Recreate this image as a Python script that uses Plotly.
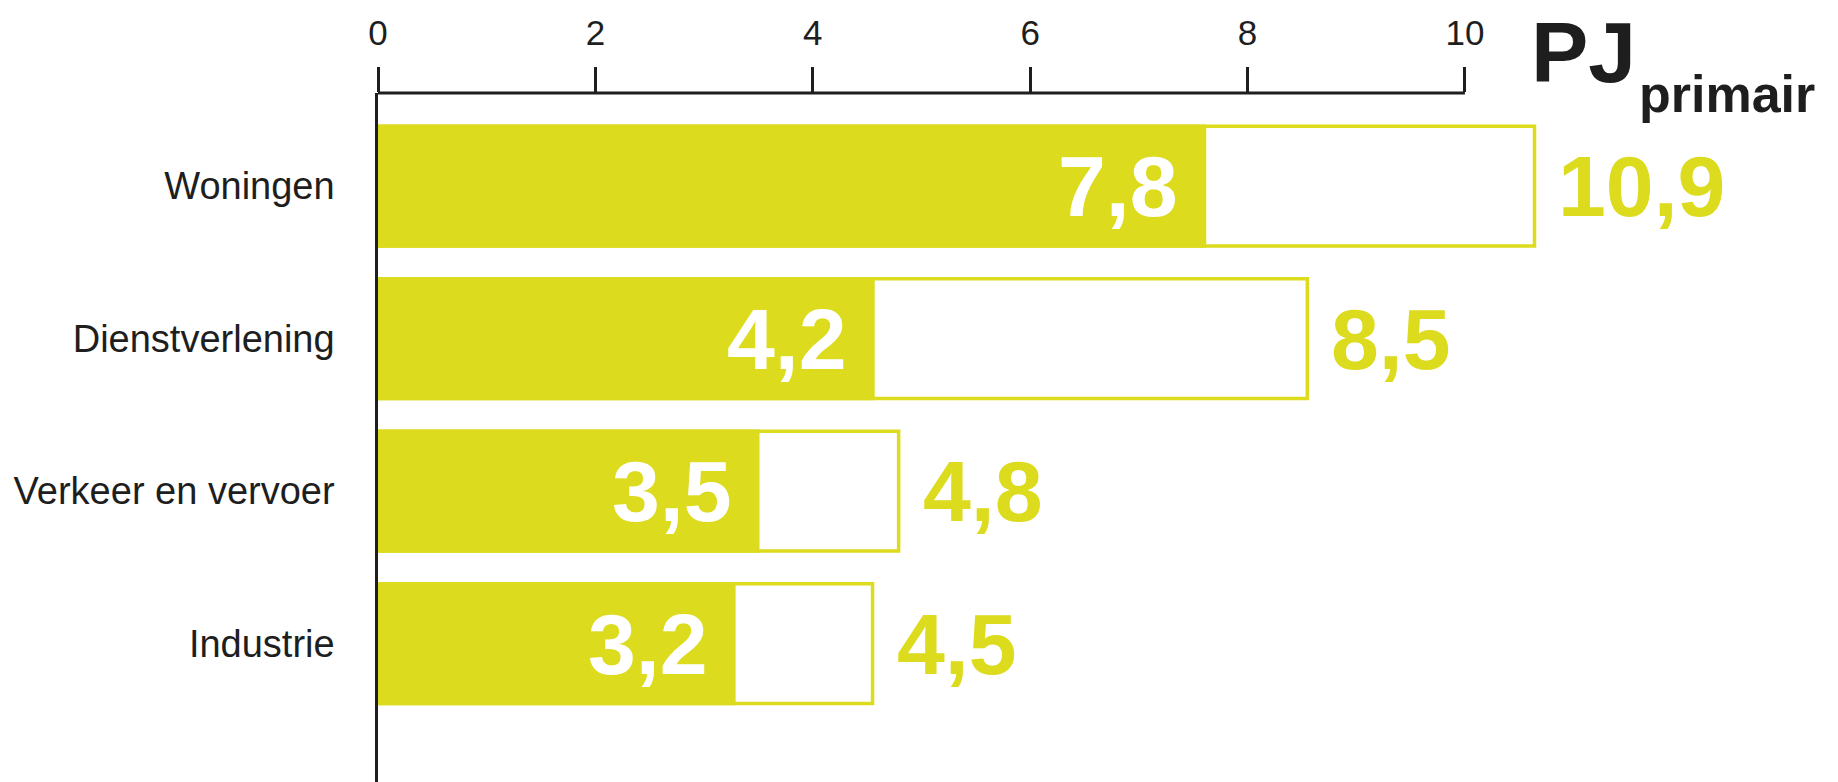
import plotly.graph_objects as go

# ---- data ----
categories = ["Woningen", "Dienstverlening", "Verkeer en vervoer", "Industrie"]
filled_values = [7.62, 4.57, 3.51, 3.29]
total_values = [10.64, 8.55, 4.79, 4.55]
filled_labels = ["7,8", "4,2", "3,5", "3,2"]
total_labels = ["10,9", "8,5", "4,8", "4,5"]
tick_values = [0, 2, 4, 6, 8, 10]
tick_labels = ["0", "2", "4", "6", "8", "10"]
unit_main = "PJ"
unit_sub = "primair"

YELLOW = "#DCDB1E"
INK = "#1e1e1e"
FONT = "Liberation Sans, Arial, Helvetica, sans-serif"

W, H = 1838, 782
L, T = 378, 93
X_MAX = 13.0
PX_PER_UNIT = 108.7
R = W - L - X_MAX * PX_PER_UNIT

fig = go.Figure()
fig.add_trace(go.Bar(
    y=categories, x=total_values, orientation="h", width=0.785,
    marker=dict(color="white", line=dict(color=YELLOW, width=3.5)),
    hoverinfo="skip",
))
fig.add_trace(go.Bar(
    y=categories, x=filled_values, orientation="h", width=0.808,
    marker=dict(color=YELLOW, line=dict(width=0)),
    hoverinfo="skip",
))

annotations = []
for cat, fv, fl, tv, tl in zip(categories, filled_values, filled_labels, total_values, total_labels):
    annotations.append(dict(
        x=fv, y=cat, xref="x", yref="y", text=fl, showarrow=False,
        xanchor="right", yanchor="middle", xshift=-26,
        font=dict(family=FONT, size=86, color="white", weight="bold"),
    ))
    annotations.append(dict(
        x=tv, y=cat, xref="x", yref="y", text=tl, showarrow=False,
        xanchor="left", yanchor="middle", xshift=22,
        font=dict(family=FONT, size=86, color=YELLOW, weight="bold"),
    ))

annotations.append(dict(
    x=tick_values[-1], y=1, xref="x", yref="paper", text=unit_main, showarrow=False,
    xanchor="left", yanchor="middle", xshift=64, yshift=41,
    font=dict(family=FONT, size=86, color=INK, weight="bold"),
))
annotations.append(dict(
    x=tick_values[-1], y=1, xref="x", yref="paper", text=unit_sub, showarrow=False,
    xanchor="left", yanchor="middle", xshift=172, yshift=-1,
    font=dict(family=FONT, size=52, color=INK, weight="bold"),
))

fig.update_layout(
    width=W, height=H,
    margin=dict(l=L, r=R, t=T, b=0, pad=0),
    plot_bgcolor="white", paper_bgcolor="white",
    barmode="overlay", showlegend=False,
    annotations=annotations,
    shapes=[dict(
        type="line", xref="x", yref="paper",
        x0=tick_values[0], x1=tick_values[-1], y0=1, y1=1,
        line=dict(color=INK, width=3), layer="above",
    )],
    xaxis=dict(
        side="top", range=[0, X_MAX], tickvals=tick_values, ticktext=tick_labels,
        ticks="outside", ticklen=25, tickwidth=2.5, tickcolor=INK,
        showline=False, showgrid=False, zeroline=False,
        tickfont=dict(family=FONT, size=35, color=INK),
        ticklabelstandoff=8,
    ),
    yaxis=dict(
        range=[3.908, -0.61], showline=True, linecolor=INK, linewidth=2.5,
        ticks="", showgrid=False, zeroline=False,
        tickfont=dict(family=FONT, size=38, color=INK),
        ticklabelstandoff=33,
    ),
)

fig.write_html(
    "out.html",
    config={"displayModeBar": False},
    post_script="document.body.style.margin='0';document.body.style.overflow='hidden';",
)
